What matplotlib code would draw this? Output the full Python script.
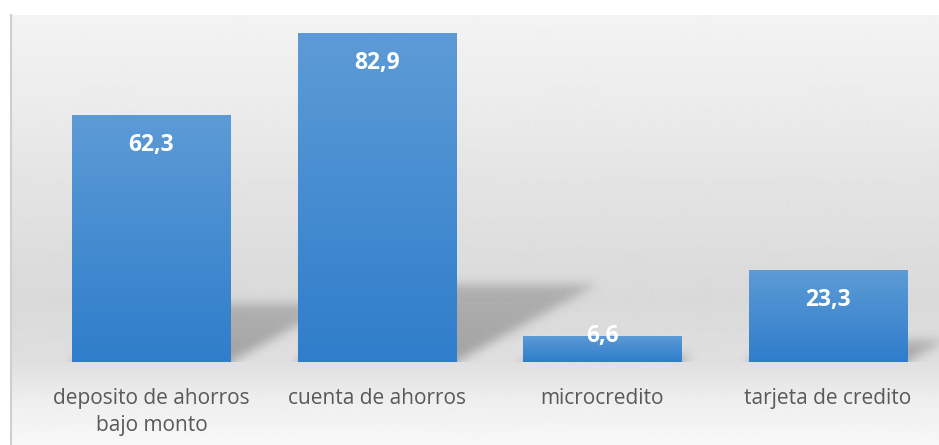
import numpy as np
import matplotlib
matplotlib.use("Agg")
import matplotlib.pyplot as plt
from matplotlib.colors import LinearSegmentedColormap

# --- data -------------------------------------------------------------
categories = ["deposito de ahorros\nbajo monto", "cuenta de ahorros",
              "microcredito", "tarjeta de credito"]
values = [62.3, 82.9, 6.6, 23.3]
value_labels = ["62,3", "82,9", "6,6", "23,3"]

# --- figure -----------------------------------------------------------
W, H, DPI = 939, 445, 100
fig = plt.figure(figsize=(W / DPI, H / DPI), dpi=DPI)
fig.patch.set_facecolor("white")

# chart-area background: soft vertical grey gradient
bg = fig.add_axes([10 / W, 0, (W - 10) / W, (H - 15) / H])
rows = np.arange(15, H)
stops_y = [15, 100, 200, 300, 362, 400, 445]
stops_v = [0.953, 0.925, 0.886, 0.851, 0.875, 0.935, 0.972]
grey = np.interp(rows, stops_y, stops_v)
bg.imshow(np.repeat(grey[:, None], 2, axis=1), cmap="gray", vmin=0, vmax=1,
          aspect="auto", extent=[0, 1, 0, 1], interpolation="bilinear")
bg.set_axis_off()
fig.add_artist(plt.Line2D([10.5 / W, 10.5 / W], [0, (H - 15) / H],
                          transform=fig.transFigure, color="#cfcfcf", lw=1.5))

# plotting axes
px_per_unit = 3.965
ymax = 90
ax = fig.add_axes([38.75 / W, 83 / H, 902 / W, ymax * px_per_unit / H])
ax.set_xlim(-0.5, 3.5)
ax.set_ylim(0, ymax)
ax.patch.set_alpha(0)
for s in ax.spines.values():
    s.set_visible(False)
ax.set_yticks([])

x = np.arange(len(values))
bar_w = 0.705

# --- perspective shadows behind the bars -------------------------------
sh_top = 25.0
nx, ny = 902, int(sh_top * px_per_unit)
gx = np.linspace(-0.5, 3.5, nx)
gy = np.linspace(0, sh_top, ny)
XX, YY = np.meshgrid(gx, gy)
mask = np.zeros_like(XX)
for xi, v in zip(x, values):
    k = 0.234 * v                     # shadow height (value units)
    s = 0.00747 * v                   # horizontal skew (category units)
    t = np.clip(YY / k, 0, None)
    inside = (YY <= k) & (XX >= xi - bar_w / 2 + s * t) & (XX <= xi + bar_w / 2 + s * t)
    fade = 1.0 - 0.3 * np.clip(t, 0, 1)
    mask = np.maximum(mask, inside * fade)


def blur(a, sigma):
    r = int(3 * sigma)
    kx = np.exp(-0.5 * (np.arange(-r, r + 1) / sigma) ** 2)
    kx /= kx.sum()
    a = np.apply_along_axis(lambda m: np.convolve(np.pad(m, r, mode="edge"), kx, "valid"), 1, a)
    a = np.apply_along_axis(lambda m: np.convolve(np.pad(m, r, mode="edge"), kx, "valid"), 0, a)
    return a


mask = blur(mask, 5)
shadow = np.zeros((ny, nx, 4))
shadow[..., :3] = 0.25
shadow[..., 3] = 0.38 * mask
ax.imshow(shadow, origin="lower", extent=[-0.5, 3.5, 0, sh_top], aspect="auto",
          zorder=1, interpolation="bilinear")

# --- gradient-filled bars ---------------------------------------------
bars = ax.bar(x, values, width=bar_w, color="#3f89d0", zorder=2, linewidth=0)
grad = LinearSegmentedColormap.from_list("bar", ["#2f7dcb", "#5d9bd6"])
for b in bars:
    x0, y0, bw, bh = b.get_x(), b.get_y(), b.get_width(), b.get_height()
    im = ax.imshow(np.linspace(0, 1, 256)[:, None], cmap=grad, origin="lower",
                   extent=[x0, x0 + bw, y0, y0 + bh], aspect="auto", zorder=3,
                   interpolation="bilinear")
    im.set_clip_path(b)
ax.set_xlim(-0.5, 3.5)
ax.set_ylim(0, ymax)

# value labels inside the bar ends
for xi, v, lab in zip(x, values, value_labels):
    off = -21.6 if v > 15 else 0
    ax.annotate(lab, (xi, v), xytext=(0, off), textcoords="offset points",
                ha="center", va="center", color="white", fontsize=16.5,
                fontweight="bold", family="Open Sans", zorder=5)

# category labels
ax.set_xticks(x)
ax.set_xticklabels(categories, fontsize=15, color="#595959", family="Open Sans",
                   linespacing=1.38)
ax.tick_params(axis="x", length=0, pad=19)

fig.savefig("out.png", dpi=DPI)
